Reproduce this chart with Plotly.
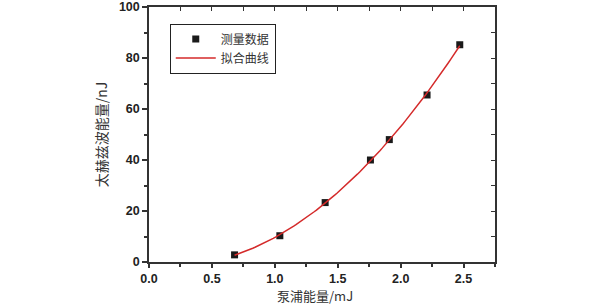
import numpy as np
import plotly.graph_objects as go

pump_mJ = [0.68, 1.04, 1.40, 1.76, 1.91, 2.21, 2.47]
thz_nJ = [2.8, 10.3, 23.3, 40.0, 48.0, 65.5, 85.2]
x_ticks = [0.0, 0.5, 1.0, 1.5, 2.0, 2.5]
y_ticks = [0, 20, 40, 60, 80, 100]

coef = np.polyfit(pump_mJ, thz_nJ, 2)
xf = np.linspace(min(pump_mJ), max(pump_mJ), 100)
yf = np.polyval(coef, xf)

fig = go.Figure()
fig.add_trace(go.Scatter(x=pump_mJ, y=thz_nJ, mode="markers", name="测量数据",
                         marker=dict(symbol="square", size=7, color="#1a1a1a")))
fig.add_trace(go.Scatter(x=xf, y=yf, mode="lines", name="拟合曲线",
                         line=dict(color="#d42a2a", width=1.5)))
fig.add_trace(go.Scatter(x=[None], y=[None], xaxis="x2", yaxis="y2", showlegend=False))

tickfont = dict(family="Liberation Sans, Arial", size=12.5, color="#222", weight="bold")
titlefont = dict(family="Noto Sans CJK SC", size=13, color="#333")
fig.update_layout(
    width=596, height=304,
    margin=dict(l=149, r=101, t=7, b=42),
    plot_bgcolor="white", paper_bgcolor="white",
    showlegend=True,
    legend=dict(x=0.06, y=0.935, xanchor="left", yanchor="top",
                bordercolor="#222", borderwidth=1, bgcolor="white",
                font=dict(family="Noto Sans CJK SC", size=12, color="#333"),
                tracegroupgap=0, itemwidth=40),
    xaxis=dict(range=[0, 2.75], tickvals=x_ticks, ticktext=[f"{v:.1f}" for v in x_ticks],
               ticks="outside", ticklen=4, tickwidth=1.5, tickcolor="#333",
               minor=dict(dtick=0.25, tick0=0, ticks="outside", ticklen=3, tickcolor="#333"),
               showline=True, linecolor="#333", linewidth=1.5, showgrid=False, zeroline=False,
               tickfont=tickfont, ticklabeloverflow="allow", automargin=False),
    yaxis=dict(range=[0, 100], tickvals=y_ticks,
               ticks="outside", ticklen=5, tickwidth=1.5, tickcolor="#333",
               minor=dict(dtick=10, tick0=0, ticks="outside", ticklen=3, tickcolor="#333"),
               showline=True, linecolor="#333", linewidth=1.5, showgrid=False, zeroline=False,
               tickfont=tickfont, ticklabeloverflow="allow", automargin=False,
               title=dict(text="太赫兹波能量/nJ", font=dict(family="Noto Sans CJK SC", size=14, color="#333"), standoff=8)),
    xaxis2=dict(range=[0, 2.75], overlaying="x", side="top", dtick=0.25, tick0=0,
                ticks="inside", ticklen=4, tickcolor="#333", showticklabels=False, automargin=False,
                showline=True, linecolor="#333", linewidth=1.5, showgrid=False, zeroline=False),
    yaxis2=dict(range=[0, 100], overlaying="y", side="right", dtick=10, tick0=0,
                ticks="inside", ticklen=4, tickcolor="#333", showticklabels=False, automargin=False,
                showline=True, linecolor="#333", linewidth=1.5, showgrid=False, zeroline=False),
    annotations=[dict(text="泵浦能量/mJ", xref="paper", yref="paper", x=0.48, y=-0.132,
                      xanchor="center", yanchor="middle", showarrow=False, font=titlefont)],
)
fig.write_html("out.html")
